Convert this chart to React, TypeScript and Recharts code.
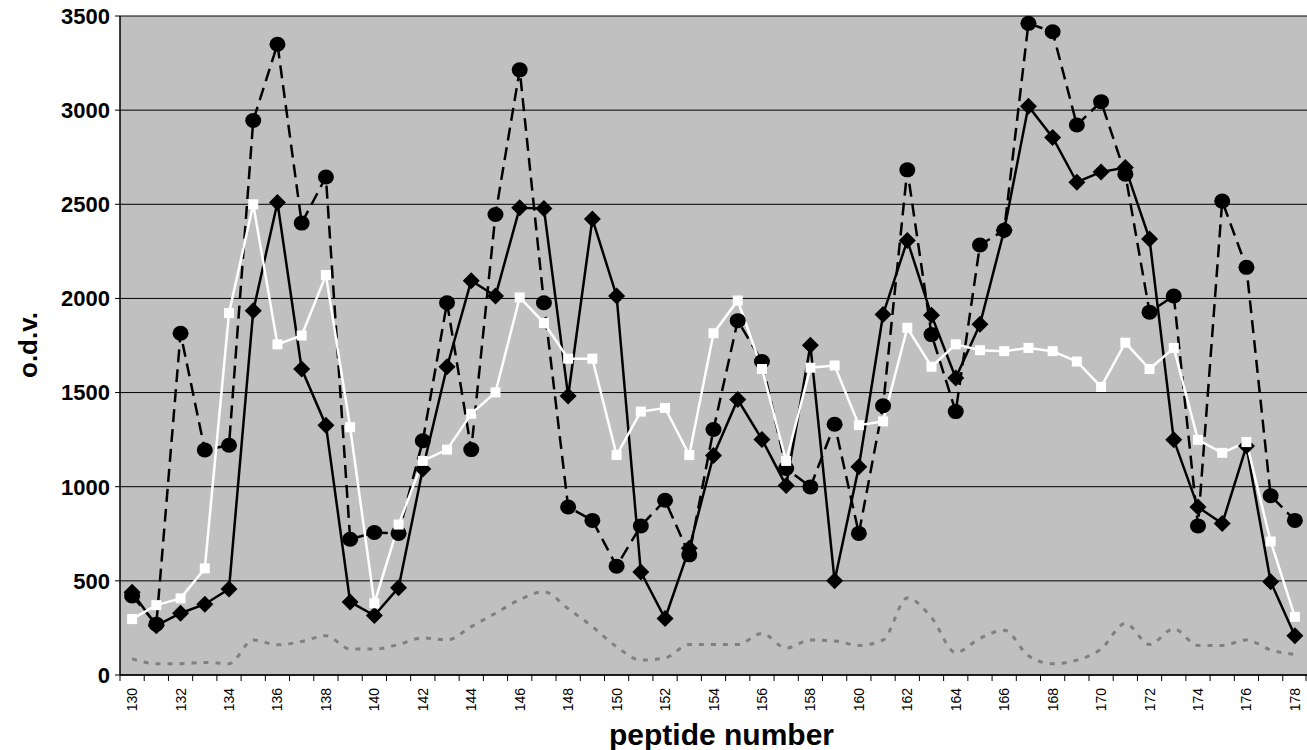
import React from 'react';
import {
  LineChart,
  Line,
  XAxis,
  YAxis,
  CartesianGrid,
  Label,
} from 'recharts';

const peptides = [
  130, 131, 132, 133, 134, 135, 136, 137, 138, 139, 140, 141, 142, 143, 144, 145, 146,
  147, 148, 149, 150, 151, 152, 153, 154, 155, 156, 157, 158, 159, 160, 161, 162, 163,
  164, 165, 166, 167, 168, 169, 170, 171, 172, 173, 174, 175, 176, 177, 178,
];

// dashed black line, round markers
const circleSeries = [
  420, 270, 1815, 1195, 1220, 2945, 3350, 2400, 2645, 721, 757, 752, 1244, 1977, 1197,
  2446, 3214, 1977, 892, 821, 578, 792, 928, 638, 1304, 1882, 1665, 1097, 999, 1332, 752,
  1430, 2683, 1808, 1399, 2284, 2362, 3461, 3416, 2921, 3045, 2660, 1927, 2013, 792, 2517,
  2165, 952, 821,
];

// solid black line, diamond markers
const diamondSeries = [
  440, 262, 328, 376, 457, 1934, 2510, 1625, 1327, 388, 316, 464, 1094, 1637, 2094, 2013,
  2481, 2477, 1482, 2422, 2013, 547, 300, 673, 1166, 1463, 1251, 1006, 1751, 500, 1106,
  1915, 2308, 1910, 1577, 1863, 2362, 3021, 2855, 2617, 2672, 2695, 2315, 1249, 892, 804,
  1216, 495, 209,
];

// white line, square markers
const squareSeries = [
  297, 371, 407, 566, 1922, 2500, 1756, 1803, 2124, 1316, 381, 799, 1137, 1197, 1387,
  1501, 2005, 1870, 1680, 1680, 1168, 1399, 1418, 1168, 1815, 1989, 1625, 1137, 1632,
  1644, 1327, 1347, 1844, 1637, 1756, 1725, 1720, 1737, 1720, 1665, 1530, 1765, 1625,
  1737, 1249, 1180, 1237, 709, 309,
];

// grey dotted background line
const backgroundSeries = [
  86, 60, 60, 67, 60, 186, 160, 178, 209, 138, 138, 162, 197, 186, 257, 328, 400, 442,
  352, 257, 150, 79, 90, 162, 162, 162, 221, 143, 186, 181, 157, 186, 409, 305, 119, 195,
  238, 102, 60, 79, 138, 274, 162, 245, 157, 157, 186, 133, 109,
];

const yTicks = [0, 500, 1000, 1500, 2000, 2500, 3000, 3500];

const data = peptides.map((p, i) => ({
  peptide: p,
  circle: circleSeries[i],
  diamond: diamondSeries[i],
  square: squareSeries[i],
  background: backgroundSeries[i],
}));

const FONT = '"Liberation Sans", Arial, sans-serif';
const CHART_W = 1307;
const CHART_H = 750;
const Y_AXIS_W = 120;
const BAND = (CHART_W - Y_AXIS_W) / peptides.length;

const CircleDot = (props: any) => {
  const { cx, cy, index } = props;
  if (cx == null || cy == null) return null;
  return <ellipse key={`c${index}`} cx={cx} cy={cy} rx={8} ry={7.5} fill="#000" />;
};

const DiamondDot = (props: any) => {
  const { cx, cy, index } = props;
  if (cx == null || cy == null) return null;
  const s = 8.5;
  return (
    <polygon
      key={`d${index}`}
      points={`${cx},${cy - s} ${cx + s},${cy} ${cx},${cy + s} ${cx - s},${cy}`}
      fill="#000"
    />
  );
};

const SquareDot = (props: any) => {
  const { cx, cy, index } = props;
  if (cx == null || cy == null) return null;
  return <rect key={`s${index}`} x={cx - 5} y={cy - 5} width={10} height={10} fill="#fff" />;
};

const PeptideTick = (props: any) => {
  const { x, y, payload, index } = props;
  const left = x - BAND / 2;
  const isLast = index === peptides.length - 1;
  const ty = y + 13;
  return (
    <g>
      <line x1={left} y1={y} x2={left} y2={y + 6} stroke="#000" strokeWidth={1} />
      {isLast && (
        <line x1={x + BAND / 2 - 1} y1={y} x2={x + BAND / 2 - 1} y2={y + 6} stroke="#000" />
      )}
      {payload.value % 2 === 0 && (
        <text
          x={x}
          y={ty}
          transform={`rotate(-90, ${x}, ${ty})`}
          textAnchor="end"
          dominantBaseline="central"
          fontSize={14}
          fontFamily={FONT}
          fill="#000"
        >
          {payload.value}
        </text>
      )}
    </g>
  );
};

export default function App() {
  return (
    <div style={{ position: 'absolute', left: 0, top: 0, width: CHART_W, height: CHART_H, background: '#fff' }}>
      <LineChart
        width={CHART_W}
        height={CHART_H}
        data={data}
        margin={{ top: 16, right: 0, left: 0, bottom: 0 }}
      >
        <CartesianGrid vertical={false} stroke="#000" strokeWidth={1} fill="#c0c0c0" />
        <XAxis
          dataKey="peptide"
          type="category"
          scale="band"
          interval={0}
          height={75}
          tickLine={false}
          tickSize={0}
          tickMargin={0}
          axisLine={{ stroke: '#000', strokeWidth: 1.5 }}
          tick={<PeptideTick />}
        >
          <Label
            content={() => (
              <text
                x={Y_AXIS_W + (CHART_W - Y_AXIS_W) / 2 + 8}
                y={745}
                textAnchor="middle"
                fontSize={30}
                fontWeight="bold"
                fontFamily={FONT}
                fill="#000"
              >
                peptide number
              </text>
            )}
          />
        </XAxis>
        <YAxis
          width={Y_AXIS_W}
          domain={[0, 3500]}
          ticks={yTicks}
          interval={0}
          tickSize={5}
          tickMargin={5}
          axisLine={{ stroke: '#000', strokeWidth: 1.5 }}
          tickLine={{ stroke: '#000' }}
          tick={{ fontSize: 22, fontWeight: 'bold', fill: '#000', fontFamily: FONT }}
        >
          <Label
            content={() => (
              <text
                x={37}
                y={345}
                transform="rotate(-90, 37, 345)"
                textAnchor="middle"
                fontSize={26}
                fontWeight="bold"
                fontFamily={FONT}
                fill="#000"
              >
                o.d.v.
              </text>
            )}
          />
        </YAxis>
        <Line
          type="monotone"
          dataKey="background"
          stroke="#808080"
          strokeWidth={3}
          strokeDasharray="5 7"
          dot={false}
          activeDot={false}
          isAnimationActive={false}
        />
        <Line
          type="linear"
          dataKey="circle"
          stroke="#000"
          strokeWidth={2.5}
          strokeDasharray="13 7"
          dot={CircleDot}
          activeDot={false}
          isAnimationActive={false}
        />
        <Line
          type="linear"
          dataKey="diamond"
          stroke="#000"
          strokeWidth={2.5}
          dot={DiamondDot}
          activeDot={false}
          isAnimationActive={false}
        />
        <Line
          type="linear"
          dataKey="square"
          stroke="#fff"
          strokeWidth={2.5}
          dot={SquareDot}
          activeDot={false}
          isAnimationActive={false}
        />
      </LineChart>
    </div>
  );
}
